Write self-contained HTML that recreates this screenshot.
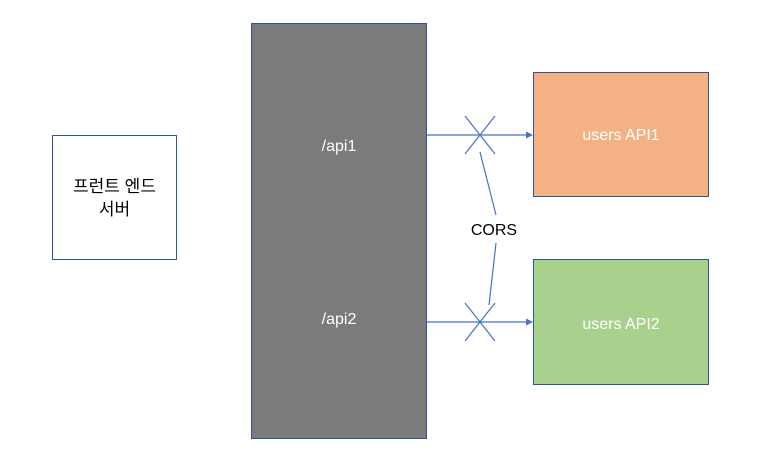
<!DOCTYPE html><html><head><style>body{margin:0;background:#fff}</style></head><body>
<svg width="764" height="460" xmlns="http://www.w3.org/2000/svg" font-family="Liberation Sans, Noto Sans CJK KR, sans-serif">
<rect x="52.5" y="135.5" width="124" height="124" fill="#fff" stroke="#2f5597"/>
<text x="114.5" y="192" font-size="17" text-anchor="middle">프런트 엔드</text>
<text x="114.5" y="215" font-size="17" text-anchor="middle">서버</text>
<rect x="251.5" y="23.5" width="175" height="415" fill="#7b7b7b" stroke="#2f5597"/>
<text x="339" y="151" font-size="16" fill="#fff" text-anchor="middle">/api1</text>
<text x="339" y="324" font-size="16" fill="#fff" text-anchor="middle">/api2</text>
<rect x="533.5" y="72.5" width="175" height="124" fill="#f4b183" stroke="#2f5597"/>
<text x="621" y="140" font-size="16" fill="#fff" text-anchor="middle">users API1</text>
<rect x="533.5" y="259.5" width="175" height="125" fill="#a9d18e" stroke="#2f5597"/>
<text x="621" y="329" font-size="16" fill="#fff" text-anchor="middle">users API2</text>
<g stroke="#4472c4" stroke-width="1.2" fill="none">
<line x1="427" y1="135" x2="527" y2="135"/><line x1="427" y1="322" x2="527" y2="322"/>
<line x1="465" y1="116" x2="495" y2="154"/><line x1="495" y1="116" x2="465" y2="154"/>
<line x1="465" y1="303" x2="495" y2="341"/><line x1="495" y1="303" x2="465" y2="341"/>
<line x1="480" y1="152" x2="496" y2="215"/><line x1="496" y1="243" x2="489" y2="305"/>
</g>
<polygon points="533,135 526,131.5 526,138.5" fill="#4472c4"/>
<polygon points="533,322 526,318.5 526,325.5" fill="#4472c4"/>
<text x="494" y="235" font-size="16" text-anchor="middle">CORS</text>
</svg></body></html>
